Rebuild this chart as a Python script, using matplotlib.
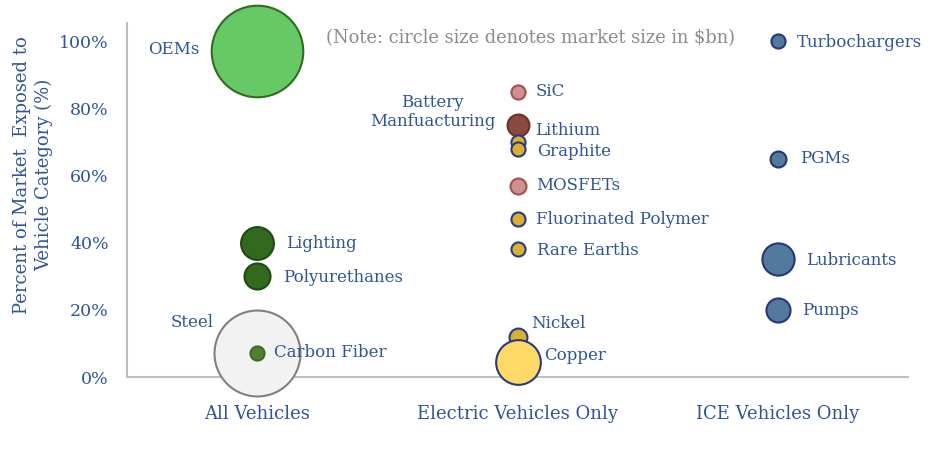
import matplotlib.pyplot as plt

plt.rcParams['font.family'] = ['DejaVu Serif']

# category 1 = All Vehicles, 2 = Electric Vehicles Only, 3 = ICE Vehicles Only
names = ['OEMs', 'Lighting', 'Polyurethanes', 'Steel', 'Carbon Fiber',
         'SiC', 'Lithium', '', 'Graphite', 'MOSFETs', 'Fluorinated Polymer',
         'Rare Earths', 'Nickel', 'Copper',
         'Turbochargers', 'PGMs', 'Lubricants', 'Pumps']
category = [1, 1, 1, 1, 1,
            2, 2, 2, 2, 2, 2, 2, 2, 2,
            3, 3, 3, 3]
exposure = [97, 40, 30, 7, 7,
            85, 75, 70, 68, 57, 47, 38, 12, 4.5,
            100, 65, 35, 20]
market_bn = [2100, 270, 170, 1850, 50,
             50, 120, 50, 50, 64, 50, 50, 80, 500,
             50, 64, 260, 145]
cat_labels = ['All Vehicles', 'Electric Vehicles Only', 'ICE Vehicles Only']
y_ticks = [0, 20, 40, 60, 80, 100]

fills = ['#66C966', '#33691E', '#33691E', '#F2F2F2', '#4E7F35',
         '#D09090', '#8B4A3F', '#D9B030', '#D9B030', '#D09090', '#D9B030',
         '#D9B030', '#D9B030', '#FFD966',
         '#527A9C', '#527A9C', '#527A9C', '#527A9C']
edges = ['#2E6E1E', '#1F4A12', '#1F4A12', '#808080', '#3B6B26',
         '#A0524D', '#6B3228', '#2A3A80', '#2A3A80', '#A0524D', '#2A3A80',
         '#2A3A80', '#2A3A80', '#2A3A80',
         '#26367A', '#26367A', '#26367A', '#26367A']
# label offsets in pixels from circle centre (dx, dy, ha)
offsets = [(-58, 2, 'right'), (29, -1, 'left'), (26, -1, 'left'), (-44, 31, 'right'), (17, 1, 'left'),
           (18, 0, 'left'), (18, -5, 'left'), (0, 0, 'left'), (20, -3, 'left'), (19, 0, 'left'),
           (18, 0, 'left'), (19, -1, 'left'), (14, 13, 'left'), (27, 6, 'left'),
           (19, -1, 'left'), (22, 0, 'left'), (28, -1, 'left'), (24, -1, 'left')]

blue = '#2F5597'

fig = plt.figure(figsize=(9.46, 4.54), dpi=100)
ax = fig.add_axes([127 / 946, 77 / 454, 781 / 946, 354 / 454])

for i in range(len(names)):
    s = 2.07 * market_bn[i]
    ax.scatter(category[i], exposure[i], s=s, color=fills[i], edgecolors=edges[i],
               linewidths=1.5, clip_on=False, zorder=3)
    if names[i]:
        dx, dy, ha = offsets[i]
        ax.annotate(names[i], (category[i], exposure[i]), xytext=(dx, dy),
                    textcoords='offset pixels', ha=ha, va='center',
                    fontsize=12, color=blue, zorder=4)

ax.annotate('Battery\nManfuacturing', (2, 75), xytext=(-85, 13), textcoords='offset pixels',
            ha='center', va='center', multialignment='center', fontsize=12, color=blue)

fig.text(326 / 946, 1 - 38 / 454, '(Note: circle size denotes market size in $bn)',
         fontsize=12.9, color='#8C8C8C', va='center', ha='left')

ax.set_xlim(0.5, 3.5)
ax.set_ylim(0, 105.4)
ax.set_xticks([1, 2, 3])
ax.set_xticklabels(cat_labels, fontsize=13, color=blue)
ax.set_yticks(y_ticks)
ax.set_yticklabels([f'{v}%' for v in y_ticks], fontsize=12.5, color=blue)
ax.tick_params(length=0, pad=13)
ax.tick_params(axis='x', pad=20)
for side in ['top', 'right']:
    ax.spines[side].set_visible(False)
for side in ['left', 'bottom']:
    ax.spines[side].set_color('#BFBFBF')
    ax.spines[side].set_linewidth(1.5)
ax.set_ylabel('Percent of Market  Exposed to\nVehicle Category (%)', fontsize=13,
              color=blue, linespacing=1.3)
ax.yaxis.set_label_coords(-0.094, 0.571)

fig.savefig('out.png', dpi=100)
